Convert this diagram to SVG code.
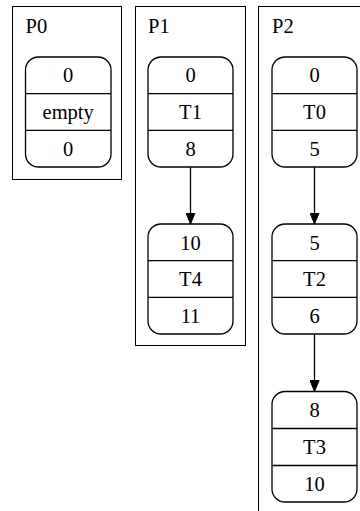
<svg xmlns="http://www.w3.org/2000/svg" width="360" height="511" viewBox="0 0 360 511">
<style>
.cl{fill:none;stroke:#000;stroke-width:1}
.nd{fill:#fff;stroke:#000;stroke-width:1.3}
.dv{stroke:#000;stroke-width:1.3}
text{font-family:"Liberation Serif","Times New Roman",serif;font-size:20.5px;fill:#000}
.c{text-anchor:middle}
.e{stroke:#000;stroke-width:1.3;fill:none}
</style>
<defs>
<marker id="ah" markerWidth="12" markerHeight="10" refX="11.5" refY="5" orient="auto" markerUnits="userSpaceOnUse">
<path d="M0,0.3 L11.5,5 L0,9.7 Z" fill="#000" stroke="#000" stroke-width="1"/>
</marker>
</defs>
<rect fill="#fff" width="360" height="511"/>
<g id="cluster_P0">
<rect class="cl" x="12.5" y="6.5" width="109" height="173"/>
<text x="25.5" y="32.5">P0</text>
</g>
<g id="cluster_P1">
<rect class="cl" x="135.5" y="6.5" width="110" height="339"/>
<text x="148" y="32.5">P1</text>
</g>
<g id="cluster_P2">
<rect class="cl" x="258.5" y="6.5" width="120" height="520"/>
<text x="272" y="32.5">P2</text>
</g>
<g id="connectors">
<line class="e" x1="190.5" y1="167" x2="190.5" y2="224" marker-end="url(#ah)"/>
<line class="e" x1="314.5" y1="167" x2="314.5" y2="224" marker-end="url(#ah)"/>
<line class="e" x1="314.5" y1="334" x2="314.5" y2="391.5" marker-end="url(#ah)"/>
</g>
<g id="empty">
<rect class="nd" x="25.5" y="57" width="85.5" height="110" rx="13"/>
<line class="dv" x1="25.5" y1="93.7" x2="111" y2="93.7"/>
<line class="dv" x1="25.5" y1="130.3" x2="111" y2="130.3"/>
<text class="c" x="68.2" y="82">0</text>
<text class="c" x="68.2" y="118.5">empty</text>
<text class="c" x="68.2" y="155.5">0</text>
</g>
<g id="T1">
<rect class="nd" x="148" y="57" width="85" height="110" rx="13"/>
<line class="dv" x1="148" y1="93.7" x2="233" y2="93.7"/>
<line class="dv" x1="148" y1="130.3" x2="233" y2="130.3"/>
<text class="c" x="190.5" y="82">0</text>
<text class="c" x="190.5" y="118.5">T1</text>
<text class="c" x="190.5" y="155.5">8</text>
</g>
<g id="T4">
<rect class="nd" x="148" y="224" width="85" height="110" rx="13"/>
<line class="dv" x1="148" y1="260.7" x2="233" y2="260.7"/>
<line class="dv" x1="148" y1="297.3" x2="233" y2="297.3"/>
<text class="c" x="190.5" y="249.5">10</text>
<text class="c" x="190.5" y="286">T4</text>
<text class="c" x="190.5" y="322.5">11</text>
</g>
<g id="T0">
<rect class="nd" x="272" y="57" width="85" height="110" rx="13"/>
<line class="dv" x1="272" y1="93.7" x2="357" y2="93.7"/>
<line class="dv" x1="272" y1="130.3" x2="357" y2="130.3"/>
<text class="c" x="314.5" y="82">0</text>
<text class="c" x="314.5" y="118.5">T0</text>
<text class="c" x="314.5" y="155.5">5</text>
</g>
<g id="T2">
<rect class="nd" x="272" y="224" width="85" height="110" rx="13"/>
<line class="dv" x1="272" y1="260.7" x2="357" y2="260.7"/>
<line class="dv" x1="272" y1="297.3" x2="357" y2="297.3"/>
<text class="c" x="314.5" y="249.5">5</text>
<text class="c" x="314.5" y="286">T2</text>
<text class="c" x="314.5" y="322.5">6</text>
</g>
<g id="T3">
<rect class="nd" x="272" y="391.5" width="85" height="110.5" rx="13"/>
<line class="dv" x1="272" y1="428.5" x2="357" y2="428.5"/>
<line class="dv" x1="272" y1="465.5" x2="357" y2="465.5"/>
<text class="c" x="314.5" y="417">8</text>
<text class="c" x="314.5" y="454">T3</text>
<text class="c" x="314.5" y="490.5">10</text>
</g>
</svg>
